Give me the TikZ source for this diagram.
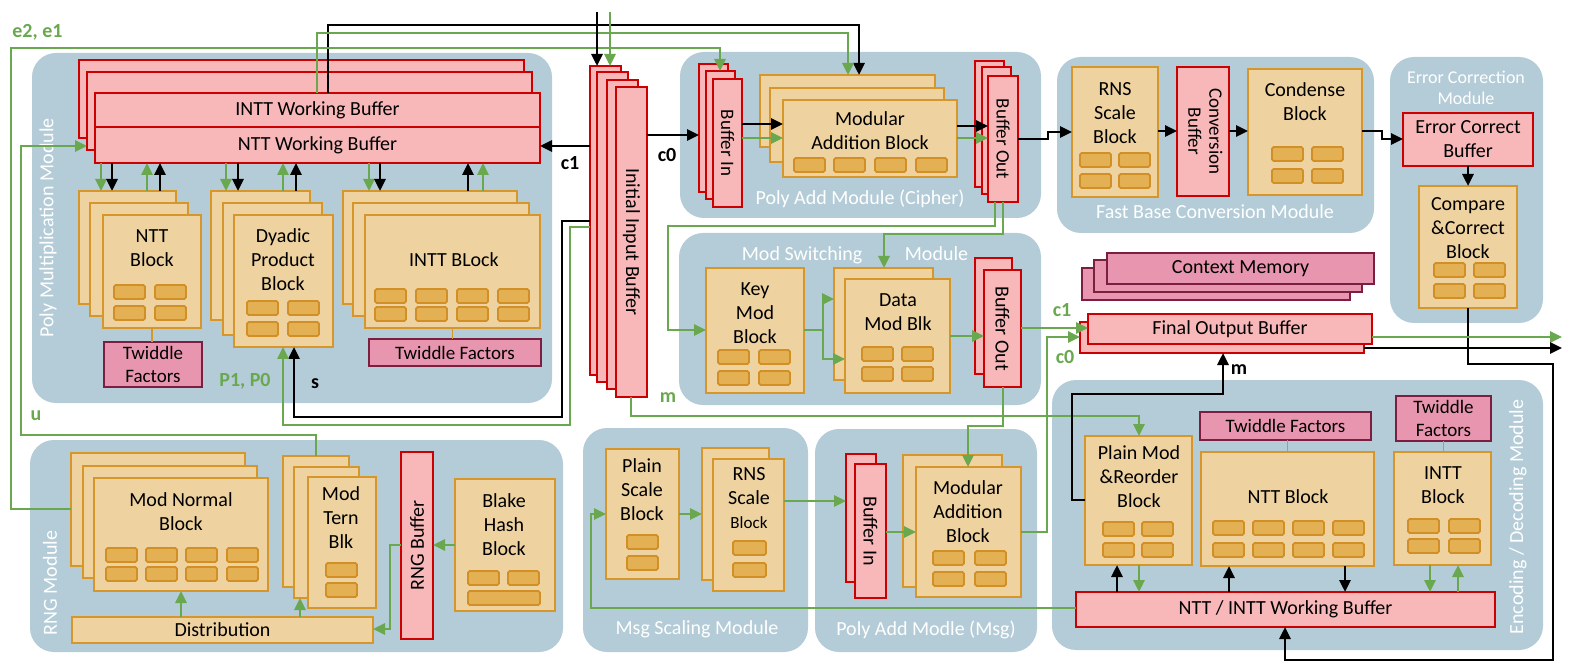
\documentclass[tikz,border=0pt]{standalone}
\usepackage{fontspec}
\setmainfont{Carlito}
\usetikzlibrary{arrows.meta}
\definecolor{bgc}{HTML}{B4CCD7}
\definecolor{buff}{HTML}{F8B8B9}
\definecolor{bufd}{HTML}{CC0000}
\definecolor{blkf}{HTML}{EED2A0}
\definecolor{blkd}{HTML}{D6962A}
\definecolor{srf}{HTML}{E4B054}
\definecolor{srd}{HTML}{D18F26}
\definecolor{magf}{HTML}{E896B0}
\definecolor{magd}{HTML}{7C1E40}
\definecolor{grn}{HTML}{6AA84F}
\newcommand{\mybox}[7]{\node[#2, anchor=north west, minimum width={(#5-#3)*0.5pt}, minimum height={(#6-#4)*0.5pt}] (#1) at (#3,#4) {#7};}
\newcommand{\srx}[2]{\draw[srect] (#1,#2) rectangle ++(31,14);}
\newcommand{\srw}[3]{\draw[srect] (#1,#2) rectangle ++(#3,14);}
\begin{document}
\begin{tikzpicture}[x=0.5pt,y=-0.5pt,
  font=\fontsize{10}{12}\selectfont,
  bgbox/.style={fill=bgc, draw=none, rounded corners=12pt, inner sep=0, outer sep=0},
  buf/.style={fill=buff, draw=bufd, line width=1.35pt, inner sep=0, outer sep=0, align=center},
  blk/.style={fill=blkf, draw=blkd, line width=1.1pt, inner sep=0, outer sep=0, align=center},
  mag/.style={fill=magf, draw=magd, line width=1.2pt, inner sep=0, outer sep=0, align=center, font=\fontsize{9.5}{11.5}\selectfont},
  srect/.style={fill=srf, draw=srd, line width=0.9pt, rounded corners=0.8pt},
  modlbl/.style={text=white, inner sep=0, align=center},
  txt/.style={inner sep=0, align=center},
  lbl/.style={inner sep=0, font=\fontsize{10}{12}\selectfont\bfseries},
  ln/.style={line width=1.4pt},
  ar/.style={line width=1.4pt, -{Triangle[length=6pt,width=5.5pt]}},
  tw/.style={draw=blkd, line width=0.7pt},
]
\useasboundingbox (0,0) rectangle (1580,663);
% ---------- module backgrounds
\mybox{pmbg}{bgbox}{32}{53}{552}{403}{}
\mybox{pacbg}{bgbox}{680}{52}{1041}{218}{}
\mybox{fbcbg}{bgbox}{1057}{57}{1374}{233}{}
\mybox{ecbg}{bgbox}{1390}{57}{1543}{323}{}
\mybox{msbg}{bgbox}{679}{233}{1041}{405}{}
\mybox{rngbg}{bgbox}{30}{440}{563}{652}{}
\mybox{msgbg}{bgbox}{583}{428}{808}{652}{}
\mybox{pambg}{bgbox}{815}{429}{1037}{652}{}
\mybox{encbg}{bgbox}{1052}{380}{1543}{650}{}
% ---------- module labels
\node[modlbl, rotate=90] (pmlbl) at (48,228) {Poly Multiplication Module};
\node[modlbl] (paclbl) at (860,199) {Poly Add Module (Cipher)};
\node[modlbl] (fbclbl) at (1215,212) {Fast Base Conversion Module};
\node[modlbl, font=\fontsize{9}{10.5}\selectfont] (eclbl) at (1466,88) {Error Correction\\Module};
\node[modlbl] (mslbl) at (855,255) {Mod Switching\hspace{1.9em} Module};
\node[modlbl, rotate=90] (rnglbl) at (50,583) {RNG Module};
\node[modlbl] (msglbl) at (697,629) {Msg Scaling Module};
\node[modlbl] (pamlbl) at (926,630) {Poly Add Modle (Msg)};
\node[modlbl, rotate=90] (enclbl) at (1518,517) {Encoding / Decoding Module};
% ---------- Poly multiplication module
\mybox{pb1}{buf}{79}{60}{524}{138}{}
\mybox{pb2}{buf}{87}{72}{532}{150}{}
\mybox{inttbuf}{buf}{95}{93}{540}{127}{INTT Working Buffer}
\mybox{nttbuf}{buf}{95}{127}{540}{163}{NTT Working Buffer}
\mybox{ntt1}{blk}{79}{191}{176}{304}{}
\mybox{ntt2}{blk}{90}{203}{188}{316}{}
\mybox{ntt}{blk}{103}{215}{201}{328}{}
\node[txt] (ntt-t) at (152,248) {NTT\\Block};
\srx{114}{285}\srx{155}{285}\srx{114}{306}\srx{155}{306}
\mybox{tw1}{mag}{104}{342}{202}{387}{Twiddle\\Factors}
\draw[tw] (ntt.south) -- (tw1.north -| ntt.south);
\mybox{dy1}{blk}{211}{191}{310}{320}{}
\mybox{dy2}{blk}{223}{203}{322}{335}{}
\mybox{dy}{blk}{234}{215}{333}{347}{}
\node[txt] (dy-t) at (283,260) {Dyadic\\Product\\Block};
\srx{247}{301}\srx{288}{301}\srx{247}{322}\srx{288}{322}
\mybox{in1}{blk}{343}{191}{517}{304}{}
\mybox{in2}{blk}{353}{203}{529}{316}{}
\mybox{intt}{blk}{365}{215}{540}{328}{}
\node[txt] (intt-t) at (454,260) {INTT BLock};
\srx{375}{289}\srx{416}{289}\srx{457}{289}\srx{498}{289}
\srx{375}{307}\srx{416}{307}\srx{457}{307}\srx{498}{307}
\mybox{tw2}{mag}{369}{339}{541}{366}{Twiddle Factors}
\draw[tw] (intt.south) -- (tw2.north -| intt.south);
% ---------- Initial input buffer
\mybox{ib1}{buf}{590}{66}{621}{375}{}
\mybox{ib2}{buf}{597}{72}{628}{382}{}
\mybox{ib3}{buf}{607}{80}{638}{389}{}
\mybox{ib}{buf}{616}{87}{647}{397}{\rotatebox{-90}{Initial Input Buffer}}
% ---------- Poly add (cipher)
\mybox{bi1}{buf}{699}{64}{728}{192}{}
\mybox{bi2}{buf}{706}{71}{735}{199}{}
\mybox{bi}{buf}{713}{79}{742}{207}{\rotatebox{-90}{\fontsize{9.5}{11}\selectfont Buffer In}}
\mybox{ma1}{blk}{760}{75}{935}{147}{}
\mybox{ma2}{blk}{770}{88}{944}{162}{}
\mybox{ma}{blk}{783}{100}{957}{177}{}
\node[txt] (ma-t) at (870,131) {Modular\\Addition Block};
\srx{794}{158}\srx{834}{158}\srx{875}{158}\srx{916}{158}
\mybox{bo1}{buf}{975}{61}{1004}{187}{}
\mybox{bo2}{buf}{982}{67}{1011}{194}{}
\mybox{bo}{buf}{988}{76}{1018}{202}{\rotatebox{-90}{\fontsize{9.5}{11}\selectfont Buffer Out}}
% ---------- Fast base conversion
\mybox{rns}{blk}{1072}{67}{1158}{197}{}
\node[txt] (rns-t) at (1115,113) {RNS\\Scale\\Block};
\srx{1080}{153}\srx{1119}{153}\srx{1080}{174}\srx{1119}{174}
\mybox{conv}{buf}{1177}{67}{1229}{196}{\rotatebox{-90}{\fontsize{9.5}{10.5}\selectfont\begin{tabular}{@{}c@{}}Conversion\\Buffer\end{tabular}}}
\mybox{cond}{blk}{1248}{69}{1362}{195}{}
\node[txt] (cond-t) at (1305,102) {Condense\\Block};
\srx{1272}{147}\srx{1312}{147}\srx{1272}{169}\srx{1312}{169}
% ---------- Error correction
\mybox{ecb}{buf}{1403}{113}{1533}{166}{Error Correct\\Buffer}
\mybox{cmp}{blk}{1419}{186}{1517}{308}{}
\node[txt] (cmp-t) at (1468,228) {Compare\\\&Correct\\Block};
\srx{1434}{263}\srx{1474}{263}\srx{1434}{284}\srx{1474}{284}
% ---------- Context memory / final output
\mybox{cm2}{mag}{1082}{268}{1350}{300}{}
\mybox{cm1}{mag}{1094}{260}{1362}{292}{}
\mybox{cm}{mag}{1107}{253}{1374}{284}{\fontsize{10}{12}\selectfont Context Memory}
\mybox{fo1}{buf}{1080}{322}{1364}{353}{}
\mybox{fo}{buf}{1088}{314}{1372}{344}{Final Output Buffer}
% ---------- Mod switching
\mybox{km}{blk}{706}{268}{804}{393}{}
\node[txt] (km-t) at (755,313) {Key\\Mod\\Block};
\srx{718}{350}\srx{759}{350}\srx{718}{371}\srx{759}{371}
\mybox{dm1}{blk}{834}{268}{933}{380}{}
\mybox{dm}{blk}{845}{279}{950}{393}{}
\node[txt] (dm-t) at (898,312) {Data\\Mod Blk};
\srx{862}{347}\srx{902}{347}\srx{862}{367}\srx{902}{367}
\mybox{bos1}{buf}{975}{258}{1012}{374}{}
\mybox{bos}{buf}{984}{270}{1021}{387}{\rotatebox{-90}{Buffer Out}}
% ---------- Msg scaling
\mybox{ps}{blk}{606}{449}{679}{579}{}
\node[txt] (ps-t) at (642,490) {Plain\\Scale\\Block};
\srx{627}{535}\srx{627}{556}
\mybox{rm1}{blk}{702}{448}{769}{580}{}
\mybox{rm}{blk}{713}{459}{784}{591}{}
\node[txt] (rm-t) at (749,498) {RNS\\Scale\\{\fontsize{8.5}{10}\selectfont Block}};
\srw{733}{541}{33}\srw{733}{563}{33}
% ---------- Poly add (msg)
\mybox{bim1}{buf}{846}{454}{876}{582}{}
\mybox{bim}{buf}{855}{464}{886}{598}{\rotatebox{-90}{Buffer In}}
\mybox{mam1}{blk}{903}{455}{1002}{587}{}
\mybox{mam}{blk}{916}{467}{1021}{597}{}
\node[txt] (mam-t) at (968,512) {Modular\\Addition\\Block};
\srx{933}{551}\srx{975}{551}\srx{933}{572}\srx{975}{572}
% ---------- Encoding / decoding
\mybox{pm}{blk}{1085}{436}{1192}{565}{}
\node[txt] (pm-t) at (1139,477) {Plain Mod\\\&Reorder\\Block};
\srx{1103}{522}\srx{1142}{522}\srx{1103}{543}\srx{1142}{543}
\mybox{tw3}{mag}{1200}{412}{1371}{440}{Twiddle Factors}
\mybox{ntte}{blk}{1201}{452}{1374}{566}{}
\node[txt] (ntte-t) at (1288,497) {NTT Block};
\srx{1213}{521}\srx{1253}{521}\srx{1293}{521}\srx{1333}{521}
\srx{1213}{543}\srx{1253}{543}\srx{1293}{543}\srx{1333}{543}
\mybox{tw4}{mag}{1396}{396}{1491}{441}{Twiddle\\Factors}
\mybox{intte}{blk}{1394}{452}{1491}{565}{}
\node[txt] (intte-t) at (1443,485) {INTT\\Block};
\srx{1408}{519}\srx{1449}{519}\srx{1408}{539}\srx{1449}{539}
\mybox{nwb}{buf}{1076}{592}{1495}{627}{NTT / INTT Working Buffer}
\draw[tw] (tw3.south -| ntte.north) -- (ntte.north);
\draw[tw] (tw4.south) -- (intte.north -| tw4.south);
% ---------- RNG
\mybox{mn1}{blk}{71}{453}{245}{566}{}
\mybox{mn2}{blk}{83}{466}{257}{578}{}
\mybox{mn}{blk}{94}{478}{268}{591}{}
\node[txt] (mn-t) at (181,512) {Mod Normal\\Block};
\srx{106}{548}\srx{146}{548}\srx{186}{548}\srx{227}{548}
\srx{106}{567}\srx{146}{567}\srx{186}{567}\srx{227}{567}
\mybox{mt1}{blk}{283}{456}{349}{587}{}
\mybox{mt2}{blk}{294}{467}{359}{598}{}
\mybox{mt}{blk}{308}{477}{376}{608}{}
\node[txt] (mt-t) at (341,518) {Mod\\Tern\\Blk};
\srx{326}{563}\srx{326}{583}
\mybox{dist}{blk}{72}{617}{373}{643}{Distribution}
\mybox{rngb}{buf}{401}{452}{433}{639}{\rotatebox{90}{RNG Buffer}}
\mybox{bl}{blk}{455}{479}{555}{611}{}
\node[txt] (bl-t) at (504,525) {Blake\\Hash\\Block};
\srx{468}{571}\srx{508}{571}\srw{468}{591}{72}
% ---------- free ends
\coordinate (topk) at (597,12);
\coordinate (topg) at (610,12);
\coordinate (outg) at (1562,337);
\coordinate (outk) at (1562,348);
% ---------- connectors: poly mult
\draw[ar,grn] (nttbuf.south -| 101,0) -- (ntt1.north -| 101,0);
\draw[ar] (nttbuf.south -| 112,0) -- (ntt1.north -| 112,0);
\draw[ar,grn] (ntt1.north -| 147,0) -- (nttbuf.south -| 147,0);
\draw[ar] (ntt1.north -| 160,0) -- (nttbuf.south -| 160,0);
\draw[ar,grn] (nttbuf.south -| 226,0) -- (dy1.north -| 226,0);
\draw[ar] (nttbuf.south -| 238,0) -- (dy1.north -| 238,0);
\draw[ar,grn] (dy1.north -| 283,0) -- (nttbuf.south -| 283,0);
\draw[ar] (dy1.north -| 296,0) -- (nttbuf.south -| 296,0);
\draw[ar,grn] (nttbuf.south -| 369,0) -- (in1.north -| 369,0);
\draw[ar] (nttbuf.south -| 380,0) -- (in1.north -| 380,0);
\draw[ar] (in1.north -| 468,0) -- (nttbuf.south -| 468,0);
\draw[ar,grn] (in1.north -| 483,0) -- (nttbuf.south -| 483,0);
% top buses
\draw[ar] (inttbuf.north -| 328,0) -- (328,25) -- (859,25) -- (ma1.north -| 859,0);
\draw[ar,grn] (inttbuf.north -| 317,0) -- (317,33) -- (848,33) -- (ma1.north -| 848,0);
\draw[ar,grn] (mn1.west |- 0,509) -- (11,509) -- (11,48) -- (720,48) -- (bi2.north -| 720,0);
\node[lbl,grn,anchor=west] (e21) at (12,32) {e2, e1};
\draw[ar] (topk) -- (ib1.north -| topk);
\draw[ar,grn] (topg) -- (ib1.north -| topg);
\draw[ar,grn] (mt1.north -| 316,0) -- (316,435) -- (21,435) -- (21,146) -- (pb2.west |- 0,146);
\node[lbl,grn] (ul) at (36,416) {u};
% initial input outputs
\draw[ar] (ib1.west |- 0,146) -- (nttbuf.east |- 0,146);
\node[lbl] (c1a) at (570,163) {c1};
\draw[ar] (ib.east |- 0,135) -- (bi1.west |- 0,135);
\node[lbl] (c0a) at (667,155) {c0};
\draw[ar] (ib1.west |- 0,221) -- (562,221) -- (562,417) -- (294,417) -- (dy.south -| 294,0);
\draw[ar,grn] (ib1.west |- 0,227) -- (570,227) -- (570,425) -- (283,425) -- (dy.south -| 283,0);
\node[lbl,grn] (p10) at (245,381) {P1, P0};
\node[lbl] (sl) at (315,384) {s};
\draw[ar,grn] (ib.south -| 631,0) -- (631,416) -- (1139,416) -- (pm.north -| 1139,0);
\node[lbl,grn] (m1) at (668,398) {m};
% poly add cipher
\draw[ar] (bi.east |- 0,124) -- (ma.west |- 0,124);
\draw[ar,grn] (bi.east |- 0,138) -- (ma.west |- 0,138);
\draw[ar] (ma.east |- 0,126) -- (bo.west |- 0,126);
\draw[ar,grn] (ma.east |- 0,138) -- (bo.west |- 0,138);
\draw[ar] (bo.east |- 0,139) -- (1048,139) -- (1048,132) -- (rns.west |- 0,132);
% fast base conversion / error correction
\draw[ar] (rns.east |- 0,131) -- (conv.west |- 0,131);
\draw[ar] (conv.east |- 0,131) -- (cond.west |- 0,131);
\draw[ar] (cond.east |- 0,131) -- (1382,131) -- (1382,139) -- (ecb.west |- 0,139);
\draw[ar] (ecb.south) -- (cmp.north);
\draw[ar] (cmp.south) -- (1468,364) -- (1553,364) -- (1553,660) -- (1285,660) -- (nwb.south -| 1285,0);
\draw[ar,grn] (fo.east |- outg) -- (outg);
\draw[ar] (fo1.east |- outk) -- (outk);
% mod switching
\draw[ar,grn] (bo.south -| 995,0) -- (995,226) -- (668,226) -- (668,330) -- (km.west |- 0,330);
\draw[ar,grn] (bo.south -| 1003,0) -- (1003,234) -- (884,234) -- (dm1.north -| 884,0);
\draw[ln,grn] (km.east |- 0,330) -- (823,330);
\draw[ar,grn] (823,330) |- (dm1.west |- 0,299);
\draw[ar,grn] (823,330) |- (dm.west |- 0,359);
\draw[ar,grn] (dm.east |- 0,336) -- (bos.west |- 0,336);
\draw[ar,grn] (bos.east |- 0,328) -- (fo.west |- 0,328);
\node[lbl,grn] (c1b) at (1062,310) {c1};
\draw[ar,grn] (mam.east |- 0,532) -- (1047,532) -- (1047,337) -- (fo1.west |- 0,337);
\node[lbl,grn] (c0b) at (1065,357) {c0};
\draw[ar,grn] (bos.south -| 1003,0) -- (1003,426) -- (968,426) -- (mam.north -| 968,0);
% encoding
\draw[ar] (pm.west |- 0,500) -- (1072,500) -- (1072,394) -- (1223,394) -- (fo1.south -| 1223,0);
\node[lbl] (m2) at (1239,370) {m};
\draw[ar] (nwb.north -| 1117,0) -- (pm.south -| 1117,0);
\draw[ar,grn] (pm.south -| 1139,0) -- (nwb.north -| 1139,0);
\draw[ar] (nwb.north -| 1229,0) -- (ntte.south -| 1229,0);
\draw[ar] (ntte.south -| 1345,0) -- (nwb.north -| 1345,0);
\draw[ar,grn] (intte.south -| 1430,0) -- (nwb.north -| 1430,0);
\draw[ar,grn] (nwb.north -| 1458,0) -- (intte.south -| 1458,0);
% msg scaling / poly add msg
\draw[ar,grn] (nwb.west |- 0,608) -- (591,608) -- (591,514) -- (ps.west |- 0,514);
\draw[ar,grn] (ps.east |- 0,514) -- (rm1.west |- 0,514);
\draw[ar,grn] (rm.east |- 0,501) -- (bim1.west |- 0,501);
\draw[ar,grn] (bim.east |- 0,532) -- (mam.west |- 0,532);
% RNG
\draw[ar,grn] (dist.north -| 181,0) -- (mn.south -| 181,0);
\draw[ar,grn] (dist.north -| 300,0) -- (mt2.south -| 300,0);
\draw[ar,grn] (rngb.west |- 0,545) -- (390,545) -- (390,629) -- (dist.east |- 0,629);
\draw[ar,grn] (bl.west |- 0,545) -- (rngb.east |- 0,545);
\end{tikzpicture}
\end{document}
